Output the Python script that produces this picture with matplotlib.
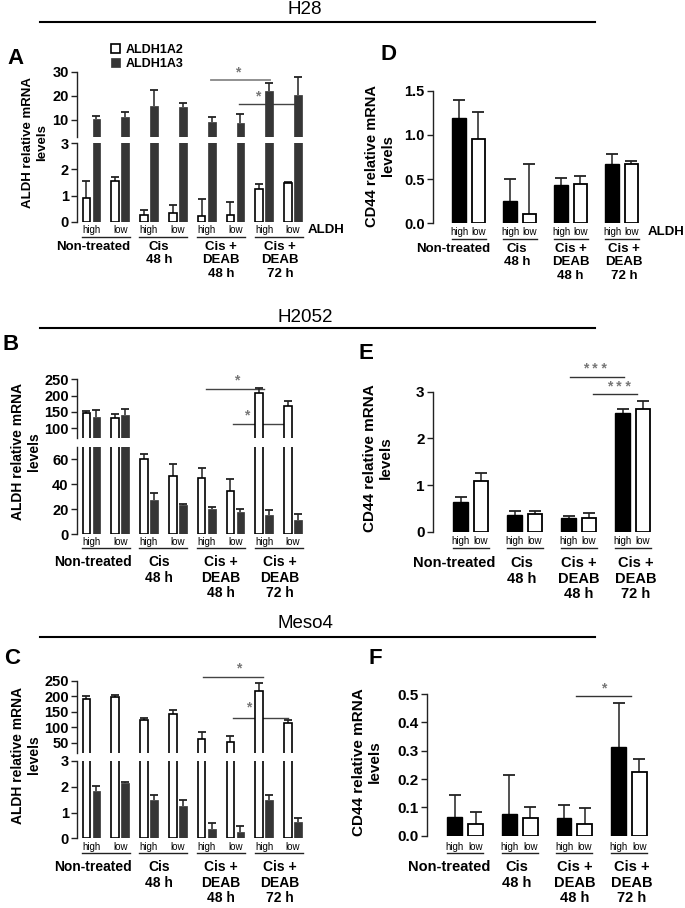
import numpy as np
import matplotlib.pyplot as plt
from matplotlib.lines import Line2D
from matplotlib.transforms import blended_transform_factory

plt.rcParams['font.family'] = ['Liberation Sans', 'DejaVu Sans']
plt.rcParams['font.weight'] = 'bold'

W, H = 685, 908

groups = ["Non-treated", "Cis\n48 h", "Cis +\nDEAB\n48 h", "Cis +\nDEAB\n72 h"]
subgroups = ["high", "low"]
genes = ["ALDH1A2", "ALDH1A3"]

# ---- ALDH panels (order: NT high, NT low, Cis high, Cis low, DEAB48 high, low, DEAB72 high, low)
a_1a2 = [0.92, 1.56, 0.27, 0.33, 0.20, 0.27, 1.24, 1.47]
a_1a2_top = [1.56, 1.72, 0.46, 0.65, 0.86, 0.77, 1.43, 1.51]
a_1a3 = [10.3, 11.3, 15.8, 15.3, 9.3, 8.6, 21.8, 20.4]
a_1a3_top = [11.7, 13.3, 22.6, 17.2, 11.4, 12.4, 25.3, 28.0]

b_1a2 = [146, 131, 60, 46.5, 45.3, 34.7, 208, 169]
b_1a2_top = [153, 144, 64, 56, 53.3, 44, 224, 183]
b_1a3 = [135, 139, 27.7, 23.7, 20, 17.9, 15.2, 11.2]
b_1a3_top = [157, 160, 33, 24.5, 21.9, 20, 19.7, 16]

c_1a2 = [193, 198, 124, 142, 64, 53, 217, 114]
c_1a2_top = [203, 205, 132, 157, 85, 74, 245, 123]
c_1a3 = [1.83, 2.13, 1.47, 1.27, 0.35, 0.26, 1.47, 0.63]
c_1a3_top = [2.03, 2.19, 1.67, 1.48, 0.59, 0.46, 1.67, 0.79]

# ---- CD44 panels (per group: high, low)
d_high = [1.19, 0.25, 0.43, 0.67]
d_high_top = [1.39, 0.50, 0.51, 0.78]
d_low = [0.95, 0.11, 0.44, 0.67]
d_low_top = [1.26, 0.67, 0.54, 0.71]

e_high = [0.63, 0.36, 0.30, 2.54]
e_high_top = [0.75, 0.45, 0.34, 2.64]
e_low = [1.09, 0.39, 0.29, 2.64]
e_low_top = [1.25, 0.45, 0.41, 2.80]

f_high = [0.067, 0.077, 0.061, 0.314]
f_high_top = [0.144, 0.214, 0.108, 0.467]
f_low = [0.040, 0.061, 0.041, 0.226]
f_low_top = [0.085, 0.102, 0.097, 0.270]

DARK = '#363636'


def fx(px):
    return px / W


def fy(py):
    return 1 - py / H


def box(left, top, right, bottom):
    return [left / W, 1 - bottom / H, (right - left) / W, (bottom - top) / H]


def style_ax(ax, ticks, fs):
    for s in ['top', 'right', 'bottom']:
        ax.spines[s].set_visible(False)
    ax.spines['left'].set_linewidth(1.0)
    ax.spines['left'].set_color('#222222')
    ax.set_xticks([])
    ax.set_yticks(ticks)
    ax.tick_params(axis='y', direction='out', length=4, width=1, labelsize=fs, pad=2, color='#222222')
    for t in ax.get_yticklabels():
        t.set_fontweight('bold')


def err(ax, x, vals, tops, cap):
    # one-sided error bar: stem from the bar top up to the cap
    ax.vlines(x, vals, tops, color='#222222', lw=1.1, zorder=2)
    ax.plot(x, tops, ls='none', marker='_', ms=cap, mew=1.3, color='#222222', zorder=2)


def aldh_panel(boxes, ylims, ticks, w2, w2t, w3, w3t, fs):
    axes = []
    x = np.arange(8)
    for bx, yl, tk in zip(boxes, ylims, ticks):
        ax = fig.add_axes(box(*bx))
        b1 = ax.bar(x - 0.175, w2, 0.26, color='white', edgecolor='black', linewidth=1.2, zorder=3)
        b2 = ax.bar(x + 0.175, w3, 0.27, color=DARK, edgecolor=DARK, linewidth=0.5, zorder=3)
        err(ax, x - 0.175, w2, w2t, 6)
        err(ax, x + 0.175, w3, w3t, 6)
        ax.set_xlim(-0.5, 7.5)
        ax.set_ylim(*yl)
        style_ax(ax, tk, fs)
        axes.append(ax)
    return axes, (b1, b2)


def cd44_panel(bx, ylim, ticks, hv, ht, lv, lt, fs):
    ax = fig.add_axes(box(*bx))
    x = np.arange(4)
    ax.bar(x - 0.19, hv, 0.27, color='black', edgecolor='black', linewidth=1, zorder=3)
    ax.bar(x + 0.19, lv, 0.27, color='white', edgecolor='black', linewidth=1.3, zorder=3)
    err(ax, x - 0.19, hv, ht, 8)
    err(ax, x + 0.19, lv, lt, 8)
    ax.set_xlim(-0.7, 3.5)
    ax.set_ylim(*ylim)
    style_ax(ax, ticks, fs)
    return ax


def under_labels(ax, sub_x, grp_x, grp_half, y_sub, y_line, y_grp, fs_sub, fs_grp, shifts):
    tr = blended_transform_factory(ax.transData, fig.transFigure)
    for i, xx in enumerate(sub_x):
        ax.text(xx, fy(y_sub), subgroups[i % 2], transform=tr, ha='center', va='center',
                fontsize=fs_sub, fontweight='normal', clip_on=False)
    for g, xx in enumerate(grp_x):
        ax.plot([xx - grp_half, xx + grp_half], [fy(y_line)] * 2, transform=tr, color='#222222',
                lw=1, clip_on=False)
        ax.text(xx + shifts[g], fy(y_grp), groups[g], transform=tr, ha='center', va='top',
                multialignment='center', fontsize=fs_grp, linespacing=1.15, clip_on=False)


def sig(ax, x0, x1, y, sx, sy, star='*', color='#444444', lw=1, z=1):
    ax.plot([x0, x1], [y, y], color=color, lw=lw, zorder=z, clip_on=False)
    ax.text(sx, sy, star, ha='center', va='center', color='#777777', fontsize=10, clip_on=False)


fig = plt.figure(figsize=(W / 100, H / 100), dpi=100)

# headings
for txt, ty, ly in [("H28", 10, 22), ("H2052", 317, 328), ("Meso4", 623, 637)]:
    fig.text(fx(305), fy(ty), txt, ha='center', va='center', fontsize=13.5, fontweight='normal')
    fig.add_artist(Line2D([fx(40), fx(595)], [fy(ly)] * 2, color='black', lw=1.5))

# panel letters
for L, px, py in [("A", 15, 58), ("B", 11, 345), ("C", 12, 658), ("D", 388, 55), ("E", 366, 353), ("F", 375, 658)]:
    fig.text(fx(px), fy(py), L, ha='center', va='center', fontsize=16, fontweight='bold')

# y labels
for lab, px, py, fs in [("ALDH relative mRNA\nlevels", 35, 143, 9.5), ("ALDH relative mRNA\nlevels", 26, 452, 10),
                        ("ALDH relative mRNA\nlevels", 26, 755, 10), ("CD44 relative mRNA\nlevels", 380, 156, 10.5),
                        ("CD44 relative mRNA\nlevels", 378, 458, 11), ("CD44 relative mRNA\nlevels", 367, 762, 11)]:
    fig.text(fx(px), fy(py), lab, rotation=90, ha='center', va='center', multialignment='center', fontsize=fs)

pair_x = np.arange(8)
grp_x_aldh = np.arange(4) * 2 + 0.5
sub_x_cd = np.array([[g - 0.19, g + 0.19] for g in range(4)]).ravel()

# ---- A
(aU, aL), bars = aldh_panel([(77, 71.7, 307.4, 137), (77, 143.3, 307.4, 221.7)], [(2.9, 30), (0, 3)],
                            [[10, 20, 30], [0, 1, 2, 3]], a_1a2, a_1a2_top, a_1a3, a_1a3_top, 10.5)
sig(aU, 4.15, 6.2, 26.7, 5.09, 29.8, color='#888888', lw=1.3)
sig(aU, 5.12, 7.175, 16.5, 5.78, 19.6)
under_labels(aL, pair_x, grp_x_aldh, 0.83, 230, 237, 241, 7, 9.5, [-0.45, -0.15, 0.0, 0.05])
fig.text(fx(308), fy(230), "ALDH", ha='left', va='center', fontsize=9.5)
fig.legend(bars, genes, loc='upper left', bbox_to_anchor=(fx(111), fy(44)), frameon=False,
           handlelength=0.75, handleheight=0.75, handletextpad=0.45, labelspacing=0.15,
           fontsize=9, borderpad=0, borderaxespad=0)

# ---- B
(bU, bL), _ = aldh_panel([(77, 379.3, 307.4, 438), (77, 447, 307.4, 534.3)], [(70, 250), (0, 70)],
                         [[100, 150, 200, 250], [0, 20, 40, 60]], b_1a2, b_1a2_top, b_1a3, b_1a3_top, 10.5)
sig(bU, 3.98, 5.99, 221.5, 5.05, 245)
sig(bU, 4.91, 6.72, 114, 5.4, 140)
under_labels(bL, pair_x, grp_x_aldh, 0.83, 542, 548, 555, 7, 10, [-0.45, -0.15, 0.0, 0.05])

# ---- C
(cU, cL), _ = aldh_panel([(77, 681, 307.4, 753), (77, 761, 307.4, 838.3)], [(17.7, 250), (0, 3)],
                         [[50, 100, 150, 200, 250], [0, 1, 2, 3]], c_1a2, c_1a2_top, c_1a3, c_1a3_top, 10.5)
sig(cU, 3.87, 5.95, 262, 5.12, 292)
sig(cU, 4.91, 6.82, 130, 5.45, 163)
under_labels(cL, pair_x, grp_x_aldh, 0.83, 847, 853, 860, 7, 10, [-0.45, -0.15, 0.0, 0.05])

# ---- D
dax = cd44_panel((433, 90.7, 433 + 4.2 * 51, 223.3), (0, 1.5), [0.0, 0.5, 1.0, 1.5],
                 d_high, d_high_top, d_low, d_low_top, 10.5)
dax.yaxis.set_major_formatter(plt.FormatStrFormatter('%.1f'))
under_labels(dax, sub_x_cd, np.arange(4), 0.33, 232, 239, 243, 7, 9.5, [-0.31, -0.05, 0.0, 0.05])
fig.text(fx(648), fy(232), "ALDH", ha='left', va='center', fontsize=9.5)

# ---- E
eax = cd44_panel((433, 391.7, 433 + 4.2 * 54, 531.7), (0, 3), [0, 1, 2, 3],
                 e_high, e_high_top, e_low, e_low_top, 11)
sig(eax, 1.83, 2.83, 3.31, 2.3, 3.48, star='* * *', color='#333333')
sig(eax, 2.26, 3.07, 2.95, 2.74, 3.11, star='* * *', color='#333333')
under_labels(eax, sub_x_cd, np.arange(4), 0.33, 541, 548, 556, 7, 10.5, [-0.3, -0.05, 0.0, 0.05])

# ---- F
fax = cd44_panel((427, 694, 427 + 4.2 * 54.6, 835.7), (0, 0.5), [0.0, 0.1, 0.2, 0.3, 0.4, 0.5],
                 f_high, f_high_top, f_low, f_low_top, 11)
fax.yaxis.set_major_formatter(plt.FormatStrFormatter('%.1f'))
sig(fax, 2.02, 3.03, 0.492, 2.54, 0.52, color='#333333')
under_labels(fax, sub_x_cd, np.arange(4), 0.33, 847, 853, 860, 7, 10.5, [-0.3, -0.05, 0.0, 0.05])

fig.savefig('out.png', dpi=100)
